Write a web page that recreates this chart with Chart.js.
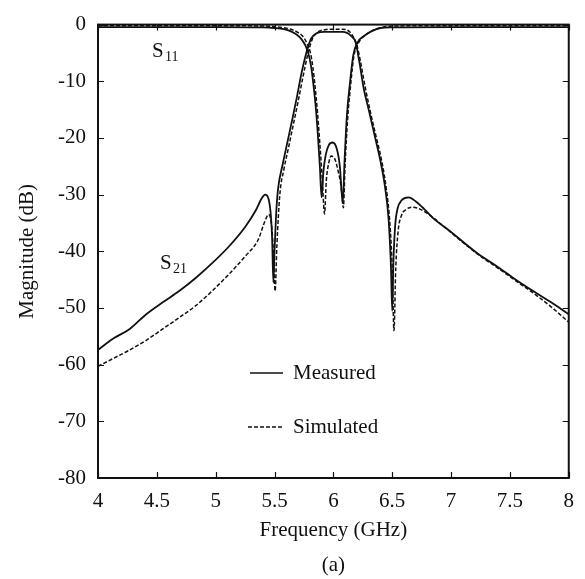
<!DOCTYPE html>
<html>
<head>
<meta charset="utf-8">
<script src="https://cdn.jsdelivr.net/npm/chart.js@4/dist/chart.umd.min.js"></script>
<style>
html, body { margin: 0; padding: 0; background: #fff; }
#wrap { width: 585px; height: 579px; }
</style>
</head>
<body>
<div id="wrap"><canvas id="filterChart" width="585" height="579"></canvas></div>
<script>
// S21 measured / simulated (GHz, dB)
const freqS21Meas = [4.00, 4.13, 4.27, 4.41, 4.55, 4.69, 4.83, 4.97, 5.11, 5.25, 5.34, 5.39, 5.42, 5.45, 5.47, 5.48, 5.49, 5.50, 5.515, 5.53, 5.57, 5.61, 5.65, 5.69, 5.73, 5.77, 5.81, 5.86, 5.92, 6.00, 6.08, 6.15, 6.19, 6.22, 6.26, 6.30, 6.35, 6.40, 6.44, 6.47, 6.49, 6.50, 6.51, 6.525, 6.545, 6.58, 6.64, 6.70, 6.77, 6.84, 7.00, 7.22, 7.40, 7.55, 7.72, 7.85, 8.00];
const dbS21Meas = [-57.4, -55.4, -53.7, -51.1, -49.0, -47.0, -44.7, -42.1, -39.2, -35.7, -32.8, -30.7, -30.0, -30.8, -34.0, -38.0, -45.5, -40.0, -33.0, -29.0, -24.6, -20.7, -16.8, -12.8, -8.5, -5.0, -2.5, -1.5, -1.3, -1.3, -1.3, -2.0, -3.2, -6.5, -11.5, -15.0, -19.5, -24.1, -28.8, -34.6, -43.2, -50.5, -42.0, -35.5, -32.5, -31.0, -30.5, -31.2, -32.5, -34.0, -36.6, -40.3, -42.8, -45.0, -47.3, -49.0, -51.1];

const freqS21Sim = [4.00, 4.13, 4.27, 4.41, 4.55, 4.69, 4.83, 4.97, 5.11, 5.25, 5.36, 5.42, 5.45, 5.475, 5.49, 5.505, 5.52, 5.545, 5.58, 5.62, 5.66, 5.70, 5.74, 5.78, 5.82, 5.87, 5.93, 6.00, 6.08, 6.14, 6.17, 6.20, 6.23, 6.27, 6.31, 6.36, 6.41, 6.45, 6.48, 6.50, 6.515, 6.53, 6.55, 6.58, 6.62, 6.67, 6.74, 6.81, 6.88, 7.00, 7.22, 7.40, 7.55, 7.72, 7.85, 8.00];
const dbS21Sim = [-60.3, -58.9, -57.4, -55.7, -53.7, -51.7, -49.6, -47.0, -44.1, -40.9, -38.0, -34.6, -33.5, -35.5, -40.0, -47.0, -39.0, -30.0, -25.5, -21.6, -17.6, -13.6, -9.4, -5.5, -2.6, -1.3, -0.9, -0.8, -0.8, -1.3, -2.2, -3.6, -6.5, -11.0, -15.0, -19.5, -24.0, -29.0, -35.0, -43.0, -54.0, -43.0, -36.5, -33.6, -32.6, -32.2, -32.6, -33.5, -34.6, -36.7, -40.4, -43.0, -45.2, -47.7, -49.8, -52.5];

// S11 measured / simulated
const freqS11Meas = [4.00, 5.00, 5.40, 5.50, 5.58, 5.64, 5.69, 5.73, 5.765, 5.79, 5.81, 5.83, 5.85, 5.87, 5.885, 5.90, 5.915, 5.935, 5.96, 5.995, 6.03, 6.055, 6.08, 6.095, 6.115, 6.14, 6.17, 6.21, 6.26, 6.33, 6.40, 6.50, 7.00, 8.00];
const dbS11Meas = [-0.45, -0.45, -0.5, -0.6, -0.8, -1.2, -1.8, -2.6, -3.8, -5.3, -7.3, -10.5, -14.5, -20.0, -25.0, -30.5, -26.0, -23.0, -21.3, -20.8, -22.0, -25.0, -31.5, -24.0, -16.0, -10.5, -5.3, -3.0, -2.0, -1.1, -0.6, -0.5, -0.45, -0.45];

const freqS11Sim = [4.00, 5.00, 5.40, 5.50, 5.58, 5.65, 5.70, 5.745, 5.78, 5.805, 5.825, 5.845, 5.865, 5.885, 5.905, 5.925, 5.94, 5.96, 5.98, 6.01, 6.04, 6.065, 6.085, 6.10, 6.12, 6.145, 6.175, 6.22, 6.27, 6.34, 6.41, 6.50, 7.00, 8.00];
const dbS11Sim = [-0.2, -0.2, -0.25, -0.35, -0.55, -0.9, -1.4, -2.2, -3.5, -5.0, -7.4, -11.0, -15.5, -21.0, -27.0, -33.4, -27.5, -24.5, -23.2, -23.6, -25.8, -28.5, -32.3, -24.5, -17.0, -11.0, -5.5, -3.0, -1.9, -1.0, -0.5, -0.25, -0.2, -0.2];

const xTicks = [4, 4.5, 5, 5.5, 6, 6.5, 7, 7.5, 8];
const yTicks = [0, -10, -20, -30, -40, -50, -60, -70, -80];

const legendLabels = ["Measured", "Simulated"];

function pts(xs, ys) {
    return xs.map((x, i) => ({x: x, y: ys[i]}));
}

const FONT = "'Liberation Serif', 'Times New Roman', serif";
Chart.defaults.font.family = FONT;
Chart.defaults.font.size = 21;
Chart.defaults.color = '#111';

const solid = {borderColor: '#111', borderWidth: 1.8, pointRadius: 0, fill: false, cubicInterpolationMode: 'monotone'};
const dashed = {borderColor: '#111', borderWidth: 1.5, borderDash: [4, 2], pointRadius: 0, fill: false, cubicInterpolationMode: 'monotone'};

// frame, inward ticks, curve labels and the hand placed legend
const decorations = {
    id: 'decorations',
    afterDatasetsDraw(chart) {
        const {ctx, chartArea: a, scales: {x, y}} = chart;
        ctx.save();
        ctx.strokeStyle = '#111';
        ctx.lineWidth = 1.2;
        ctx.beginPath();
        xTicks.forEach(v => {
            const px = Math.round(x.getPixelForValue(v)) + 0.5;
            ctx.moveTo(px, a.bottom); ctx.lineTo(px, a.bottom - 6);
            ctx.moveTo(px, a.top); ctx.lineTo(px, a.top + 6);
        });
        yTicks.forEach(v => {
            const py = Math.round(y.getPixelForValue(v)) + 0.5;
            ctx.moveTo(a.left, py); ctx.lineTo(a.left + 6, py);
            ctx.moveTo(a.right, py); ctx.lineTo(a.right - 6, py);
        });
        ctx.stroke();
        ctx.lineWidth = 2;
        ctx.strokeRect(a.left, a.top, a.right - a.left, a.bottom - a.top);

        // curve labels
        ctx.fillStyle = '#111';
        ctx.textBaseline = 'alphabetic';
        ctx.textAlign = 'left';
        ctx.font = '21px ' + FONT;
        ctx.fillText('S', 152, 57);
        ctx.fillText('S', 160, 269);
        ctx.font = '14px ' + FONT;
        ctx.fillText('11', 165, 61);
        ctx.fillText('21', 173, 273);

        // legend
        ctx.lineWidth = 1.6;
        ctx.beginPath();
        ctx.moveTo(250, 373); ctx.lineTo(283, 373);
        ctx.stroke();
        ctx.setLineDash([4, 2]);
        ctx.lineWidth = 1.5;
        ctx.beginPath();
        ctx.moveTo(248, 427); ctx.lineTo(283, 427);
        ctx.stroke();
        ctx.setLineDash([]);
        ctx.font = '21px ' + FONT;
        ctx.textBaseline = 'middle';
        ctx.fillText(legendLabels[0], 293, 373);
        ctx.fillText(legendLabels[1], 293, 427);

        // sub figure caption
        ctx.textAlign = 'center';
        ctx.fillText('(a)', (a.left + a.right) / 2, 565);
        ctx.restore();
    }
};

const ctx1 = document.getElementById("filterChart").getContext('2d');

const config = {
    type: 'line',
    data: {
        datasets: [
            Object.assign({label: 'S11 measured', data: pts(freqS11Meas, dbS11Meas)}, solid),
            Object.assign({label: 'S21 measured', data: pts(freqS21Meas, dbS21Meas)}, solid),
            Object.assign({label: 'S11 simulated', data: pts(freqS11Sim, dbS11Sim)}, dashed),
            Object.assign({label: 'S21 simulated', data: pts(freqS21Sim, dbS21Sim)}, dashed)
        ]
    },
    options: {
        responsive: false,
        animation: false,
        layout: {padding: {left: 0, right: 12, top: 18, bottom: 0}},
        plugins: {
            legend: {display: false},
            tooltip: {enabled: false},
            title: {display: false}
        },
        scales: {
            x: {
                type: 'linear',
                min: 4,
                max: 8,
                grid: {display: false, drawTicks: false},
                border: {display: false},
                ticks: {stepSize: 0.5, padding: 11, color: '#111', maxRotation: 0, callback: v => String(v)},
                title: {display: true, text: 'Frequency (GHz)', color: '#111', padding: {top: 0, bottom: 36}},
                afterFit: s => { s.height = 101; }
            },
            y: {
                min: -80,
                max: 0,
                grid: {display: false, drawTicks: false},
                border: {display: false},
                ticks: {stepSize: 10, padding: 12, color: '#111', callback: v => String(v)},
                title: {display: true, text: 'Magnitude (dB)', color: '#111', padding: {top: 15, bottom: 0}},
                afterFit: s => { s.width = 98; }
            }
        }
    },
    plugins: [decorations]
};

const chart1 = new Chart(ctx1, config);
</script>
</body>
</html>
